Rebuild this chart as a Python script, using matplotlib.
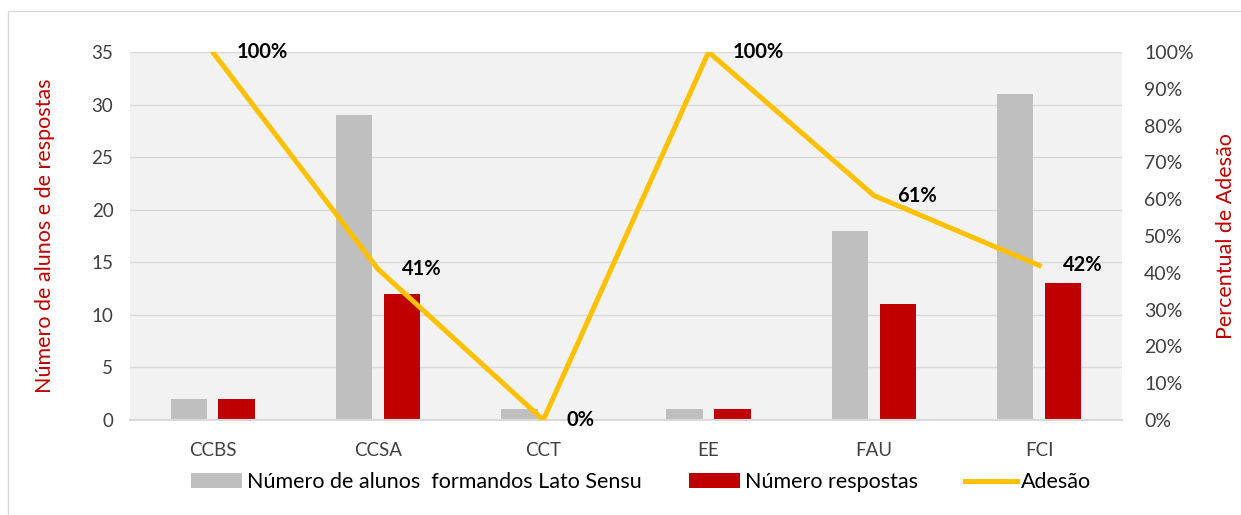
import matplotlib.pyplot as plt
import numpy as np
from matplotlib.patches import Rectangle

plt.rcParams['font.family'] = ['Lato', 'DejaVu Sans']

categorias = ["CCBS", "CCSA", "CCT", "EE", "FAU", "FCI"]
alunos = [2, 29, 1, 1, 18, 31]
respostas = [2, 12, 0, 1, 11, 13]
adesao = [100, 41, 0, 100, 61, 42]

cinza = "#BFBFBF"
vermelho = "#C00000"
amarelo = "#FFC000"

fig = plt.figure(figsize=(12.41, 5.15), dpi=100)
fig.patches.append(Rectangle((8 / 1241, -0.1), 1.2, 1 - 11 / 515 + 0.1,
                             transform=fig.transFigure, fill=False,
                             edgecolor="#D9D9D9", linewidth=1))
ax = fig.add_axes([0.1048, 0.1845, 0.7992, 0.7145])
ax.set_facecolor("#F2F2F2")

x = np.arange(len(categorias))
w = 0.22
b1 = ax.bar(x - 0.145, alunos, w, color=cinza, label="Número de alunos  formandos Lato Sensu", zorder=2)
b2 = ax.bar(x + 0.145, respostas, w, color=vermelho, label="Número respostas", zorder=2)

ax.set_xlim(-0.5, len(categorias) - 0.5)
ax.set_ylim(0, 35)
ax.set_yticks(range(0, 36, 5))
ax.set_xticks(x)
ax.set_xticklabels(categorias)
ax.grid(axis="y", color="#D9D9D9", linewidth=1, zorder=0)
for s in ["top", "left", "right"]:
    ax.spines[s].set_visible(False)
ax.spines["bottom"].set_color("#D9D9D9")
ax.spines["bottom"].set_linewidth(1.5)
ax.tick_params(length=0, labelsize=13.5, colors="#404040", pad=12)
ax.tick_params(axis="x", pad=16)
ax.set_ylabel("Número de alunos e de respostas", color=vermelho, fontsize=15.5, labelpad=26)

ax2 = ax.twinx()
ln, = ax2.plot(x, adesao, color=amarelo, linewidth=3.6, label="Adesão", zorder=3,
               solid_joinstyle="miter")
ax2.set_ylim(0, 100)
ax2.set_yticks(range(0, 101, 10))
ax2.set_yticklabels([f"{v}%" for v in range(0, 101, 10)])
for s in ax2.spines.values():
    s.set_visible(False)
ax2.tick_params(length=0, labelsize=14, colors="#404040", pad=16)
ax2.set_ylabel("Percentual de Adesão", color=vermelho, fontsize=15.5, labelpad=16)

for xi, v in zip(x, adesao):
    ax2.annotate(f"{v}%", (xi, v), xytext=(17, 0), textcoords="offset points",
                 ha="left", va="center", fontsize=14.5, fontweight="bold",
                 color="black", zorder=4, annotation_clip=False)

fig.legend(handles=[b1, b2, ln], loc="center", bbox_to_anchor=(0.5165, 0.064),
           ncol=3, frameon=False, fontsize=15.5, handlelength=2.4,
           handletextpad=0.2, columnspacing=2.2)

fig.savefig("out.png", dpi=100)
